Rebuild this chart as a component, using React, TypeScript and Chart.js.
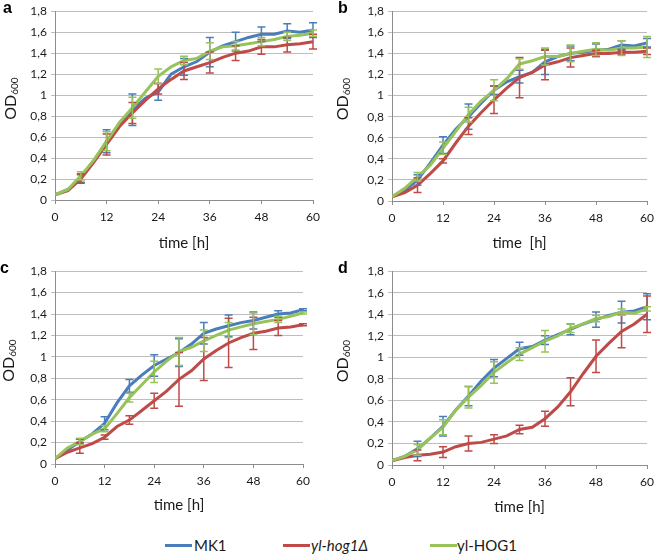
import React, { useEffect, useRef } from "react";
import { Chart, registerables } from "chart.js";

Chart.register(...registerables);

// ---------- data ----------
const TIMES = [0, 3, 6, 9, 12, 15, 18, 21, 24, 27, 30, 33, 36, 39, 42, 45, 48, 51, 54, 57, 60];
const ERR_TIMES = [6, 12, 18, 24, 30, 36, 42, 48, 54, 60];
const X_TICK_LABELS = ["0", "12", "24", "36", "48", "60"];
const Y_TICK_LABELS = ["0", "0,2", "0,4", "0,6", "0,8", "1", "1,2", "1,4", "1,6", "1,8"];
const SERIES_NAMES = ["MK1", "yl-hog1Δ", "yl-HOG1"];
const SERIES_COLORS = ["#4A7EBB", "#BE4B48", "#98C35A"];

// panel a
const A_MK1 = [0.05, 0.1, 0.21, 0.37, 0.56, 0.72, 0.86, 0.97, 1.03, 1.2, 1.27, 1.32, 1.41, 1.47, 1.51, 1.55, 1.58, 1.58, 1.61, 1.6, 1.62];
const A_HOG1D = [0.05, 0.09, 0.2, 0.36, 0.53, 0.7, 0.83, 0.95, 1.06, 1.15, 1.23, 1.27, 1.31, 1.36, 1.4, 1.42, 1.46, 1.46, 1.48, 1.49, 1.51];
const A_HOG1 = [0.05, 0.1, 0.23, 0.38, 0.56, 0.74, 0.88, 1.03, 1.18, 1.27, 1.33, 1.35, 1.42, 1.46, 1.47, 1.49, 1.51, 1.53, 1.56, 1.57, 1.59];
const A_MK1_ERR = [0.04, 0.11, 0.15, 0.08, 0.08, 0.14, 0.09, 0.07, 0.07, 0.07];
const A_HOG1D_ERR = [0.04, 0.1, 0.1, 0.05, 0.08, 0.1, 0.07, 0.07, 0.07, 0.07];
const A_HOG1_ERR = [0.04, 0.09, 0.1, 0.07, 0.04, 0.08, 0.04, 0.04, 0.04, 0.03];

// panel b
const B_MK1 = [0.04, 0.1, 0.2, 0.36, 0.53, 0.68, 0.8, 0.93, 1.05, 1.13, 1.18, 1.22, 1.32, 1.37, 1.4, 1.41, 1.43, 1.44, 1.48, 1.47, 1.5];
const B_HOG1D = [0.04, 0.08, 0.15, 0.26, 0.38, 0.55, 0.71, 0.84, 0.96, 1.07, 1.17, 1.22, 1.29, 1.32, 1.36, 1.38, 1.4, 1.4, 1.41, 1.41, 1.42];
const B_HOG1 = [0.04, 0.12, 0.23, 0.34, 0.5, 0.66, 0.82, 0.95, 1.05, 1.16, 1.3, 1.33, 1.37, 1.37, 1.4, 1.42, 1.44, 1.43, 1.45, 1.45, 1.46];
const B_MK1_ERR = [0.05, 0.08, 0.12, 0.04, 0.06, 0.12, 0.07, 0.06, 0.04, 0.04];
const B_HOG1D_ERR = [0.07, 0.02, 0.08, 0.13, 0.19, 0.14, 0.09, 0.03, 0.02, 0.03];
const B_HOG1_ERR = [0.04, 0.06, 0.07, 0.1, 0.05, 0.08, 0.08, 0.06, 0.07, 0.1];

// panel c
const C_MK1 = [0.05, 0.13, 0.21, 0.28, 0.38, 0.57, 0.73, 0.83, 0.92, 0.98, 1.04, 1.12, 1.22, 1.26, 1.29, 1.32, 1.34, 1.37, 1.4, 1.41, 1.44];
const C_HOG1D = [0.05, 0.11, 0.15, 0.19, 0.25, 0.35, 0.41, 0.5, 0.59, 0.68, 0.79, 0.87, 0.98, 1.06, 1.13, 1.18, 1.22, 1.24, 1.27, 1.28, 1.3];
const C_HOG1 = [0.05, 0.15, 0.21, 0.28, 0.33, 0.47, 0.62, 0.74, 0.86, 0.96, 1.05, 1.09, 1.15, 1.2, 1.25, 1.28, 1.31, 1.33, 1.35, 1.38, 1.41];
const C_MK1_ERR = [0.02, 0.06, 0.06, 0.1, 0.13, 0.1, 0.1, 0.08, 0.03, 0.01];
const C_HOG1D_ERR = [0.05, 0.02, 0.04, 0.07, 0.25, 0.2, 0.23, 0.15, 0.07, 0.01];
const C_HOG1_ERR = [0.03, 0.03, 0.04, 0.1, 0.13, 0.1, 0.07, 0.1, 0.03, 0.01];

// panel d
const D_MK1 = [0.04, 0.08, 0.15, 0.25, 0.36, 0.51, 0.64, 0.78, 0.9, 0.99, 1.08, 1.1, 1.16, 1.21, 1.26, 1.31, 1.35, 1.39, 1.42, 1.43, 1.47];
const D_HOG1D = [0.04, 0.07, 0.09, 0.1, 0.12, 0.17, 0.2, 0.21, 0.24, 0.27, 0.33, 0.35, 0.43, 0.54, 0.68, 0.85, 1.01, 1.13, 1.24, 1.31, 1.4];
const D_HOG1 = [0.04, 0.08, 0.14, 0.25, 0.35, 0.51, 0.63, 0.74, 0.86, 0.95, 1.03, 1.09, 1.15, 1.2, 1.27, 1.31, 1.36, 1.38, 1.42, 1.41, 1.45];
const D_MK1_ERR = [0.07, 0.09, 0.09, 0.08, 0.06, 0.04, 0.05, 0.07, 0.1, 0.12];
const D_HOG1D_ERR = [0.05, 0.05, 0.07, 0.04, 0.04, 0.07, 0.13, 0.15, 0.15, 0.17];
const D_HOG1_ERR = [0.05, 0.07, 0.1, 0.1, 0.06, 0.1, 0.04, 0.03, 0.03, 0.02];

const X_TITLES = ["time [h]", "time  [h]", "time [h]", "time [h]"];
const PANEL_LETTERS = ["a", "b", "c", "d"];
const Y_TITLE_MAIN = "OD";
const Y_TITLE_SUB = "600";

const PANEL_DATA = [
  { values: [A_MK1, A_HOG1D, A_HOG1], errors: [A_MK1_ERR, A_HOG1D_ERR, A_HOG1_ERR] },
  { values: [B_MK1, B_HOG1D, B_HOG1], errors: [B_MK1_ERR, B_HOG1D_ERR, B_HOG1_ERR] },
  { values: [C_MK1, C_HOG1D, C_HOG1], errors: [C_MK1_ERR, C_HOG1D_ERR, C_HOG1_ERR] },
  { values: [D_MK1, D_HOG1D, D_HOG1], errors: [D_MK1_ERR, D_HOG1D_ERR, D_HOG1_ERR] },
];

// ---------- layout ----------
const W = 330;
const H = 258;
const PANEL_LAYOUT = [
  { x: 0, y: 0, l: 55, r: 313, t: 7, b: 200, titlePad: 6, letterX: 3, yTitleX: 11 },
  { x: 330, y: 0, l: 62, r: 323, t: 7, b: 201, titlePad: 6, letterX: 8, yTitleX: 13 },
  { x: 0, y: 260, l: 55, r: 303, t: 10, b: 204, titlePad: 4, letterX: 0, yTitleX: 9 },
  { x: 330, y: 260, l: 62, r: 321, t: 10, b: 205, titlePad: 2, letterX: 8, yTitleX: 13 },
];

const FONT = "Lato, 'Open Sans', sans-serif";
const AXIS_COLOR = "#8C8C8C";
const GRID_COLOR = "#BDBDBD";
const TEXT_COLOR = "#1a1a1a";

const errorBarPlugin = {
  id: "errorBars",
  afterDatasetsDraw(chart: any) {
    const { ctx } = chart;
    const xs = chart.scales.x;
    const ys = chart.scales.y;
    ctx.save();
    chart.data.datasets.forEach((ds: any) => {
      ctx.strokeStyle = ds.borderColor;
      ctx.lineWidth = 1.5;
      ERR_TIMES.forEach((t, i) => {
        const idx = TIMES.indexOf(t);
        if (idx < 0) return;
        const v = ds.data[idx].y;
        const e = ds.errors[i];
        const px = xs.getPixelForValue(t);
        const top = ys.getPixelForValue(v + e);
        const bot = ys.getPixelForValue(v - e);
        ctx.beginPath();
        ctx.moveTo(px, top);
        ctx.lineTo(px, bot);
        ctx.moveTo(px - 4, top);
        ctx.lineTo(px + 4, top);
        ctx.moveTo(px - 4, bot);
        ctx.lineTo(px + 4, bot);
        ctx.stroke();
      });
    });
    ctx.restore();
  },
};

const panelTextPlugin = {
  id: "panelText",
  afterDraw(chart: any, _args: any, opts: any) {
    const { ctx, chartArea } = chart;
    ctx.save();
    // panel letter
    ctx.fillStyle = "#000";
    ctx.font = "bold 16px 'Liberation Sans', Arial, sans-serif";
    ctx.textBaseline = "alphabetic";
    ctx.textAlign = "left";
    ctx.fillText(opts.letter, opts.letterX, 13);
    // y title with subscript
    const cy = (chartArea.top + chartArea.bottom) / 2 - 7;
    ctx.translate(opts.yTitleX, cy);
    ctx.rotate(-Math.PI / 2);
    ctx.fillStyle = TEXT_COLOR;
    const mainFont = `16px ${FONT}`;
    const subFont = `10px ${FONT}`;
    ctx.font = mainFont;
    const w1 = ctx.measureText(Y_TITLE_MAIN).width;
    ctx.font = subFont;
    const w2 = ctx.measureText(Y_TITLE_SUB).width;
    const start = -(w1 + w2) / 2;
    ctx.textBaseline = "middle";
    ctx.font = mainFont;
    ctx.fillText(Y_TITLE_MAIN, start, 0);
    ctx.font = subFont;
    ctx.fillText(Y_TITLE_SUB, start + w1, 4);
    ctx.restore();
  },
};

function buildConfig(p: number): any {
  const lay = PANEL_LAYOUT[p];
  const pd = PANEL_DATA[p];
  const datasets = SERIES_NAMES.map((name, s) => ({
    label: name,
    data: TIMES.map((t, i) => ({ x: t, y: pd.values[s][i] })),
    errors: pd.errors[s],
    borderColor: SERIES_COLORS[s],
    backgroundColor: SERIES_COLORS[s],
    borderWidth: 3,
    pointRadius: 0,
    tension: 0,
    fill: false,
    order: s === 2 ? 0 : s === 1 ? 1 : 2,
  }));
  return {
    type: "line",
    data: { datasets },
    options: {
      animation: false,
      responsive: false,
      maintainAspectRatio: false,
      layout: { padding: { left: 0, top: lay.t, right: W - lay.r, bottom: 0 } },
      plugins: {
        legend: { display: false },
        tooltip: { enabled: false },
        panelText: { letter: PANEL_LETTERS[p], letterX: lay.letterX, yTitleX: lay.yTitleX },
      },
      scales: {
        x: {
          type: "linear",
          min: 0,
          max: 60,
          ticks: {
            stepSize: 12,
            padding: 6,
            color: TEXT_COLOR,
            font: { family: FONT, size: 12 },
            maxRotation: 0,
            callback: (_v: any, i: number) => X_TICK_LABELS[i],
          },
          grid: { drawOnChartArea: false, tickLength: 4, color: AXIS_COLOR, lineWidth: 1 },
          border: { color: AXIS_COLOR, width: 1 },
          title: {
            display: true,
            text: X_TITLES[p],
            color: TEXT_COLOR,
            font: { family: FONT, size: 15 },
            padding: { top: 0, bottom: lay.titlePad },
          },
          afterFit: (s: any) => {
            s.height = H - lay.b;
          },
        },
        y: {
          type: "linear",
          min: 0,
          max: 1.8,
          ticks: {
            stepSize: 0.2,
            padding: 4,
            color: TEXT_COLOR,
            font: { family: FONT, size: 12 },
            callback: (_v: any, i: number) => Y_TICK_LABELS[i],
          },
          grid: { color: GRID_COLOR, tickLength: 4, lineWidth: 1 },
          border: { color: AXIS_COLOR, width: 1 },
          afterFit: (s: any) => {
            s.width = lay.l;
          },
        },
      },
    },
    plugins: [errorBarPlugin, panelTextPlugin],
  };
}

export default function App() {
  const refs = [useRef<HTMLCanvasElement>(null), useRef<HTMLCanvasElement>(null), useRef<HTMLCanvasElement>(null), useRef<HTMLCanvasElement>(null)];

  useEffect(() => {
    const charts = refs.map((r, p) => new Chart(r.current as HTMLCanvasElement, buildConfig(p)));
    return () => charts.forEach((c) => c.destroy());
  }, []);

  const legendItems = [
    { lineX: 165, textX: 194, italic: false },
    { lineX: 283, textX: 311, italic: true },
    { lineX: 430, textX: 457, italic: false },
  ];

  return (
    <div style={{ position: "absolute", left: 0, top: 0, width: 660, height: 554, background: "#fff", overflow: "hidden" }}>
      {PANEL_LAYOUT.map((lay, p) => (
        <div key={p} style={{ position: "absolute", left: lay.x, top: lay.y, width: W, height: H }}>
          <canvas ref={refs[p]} width={W} height={H} style={{ display: "block", width: W, height: H }} />
        </div>
      ))}
      {legendItems.map((it, s) => (
        <React.Fragment key={s}>
          <div
            style={{
              position: "absolute",
              left: it.lineX,
              top: 544,
              width: 27,
              height: 3,
              background: SERIES_COLORS[s],
            }}
          />
          <div
            style={{
              position: "absolute",
              left: it.textX,
              top: 535,
              height: 20,
              lineHeight: "20px",
              fontFamily: FONT,
              fontSize: 15,
              fontStyle: it.italic ? "italic" : "normal",
              color: TEXT_COLOR,
              whiteSpace: "nowrap",
            }}
          >
            {SERIES_NAMES[s]}
          </div>
        </React.Fragment>
      ))}
    </div>
  );
}
